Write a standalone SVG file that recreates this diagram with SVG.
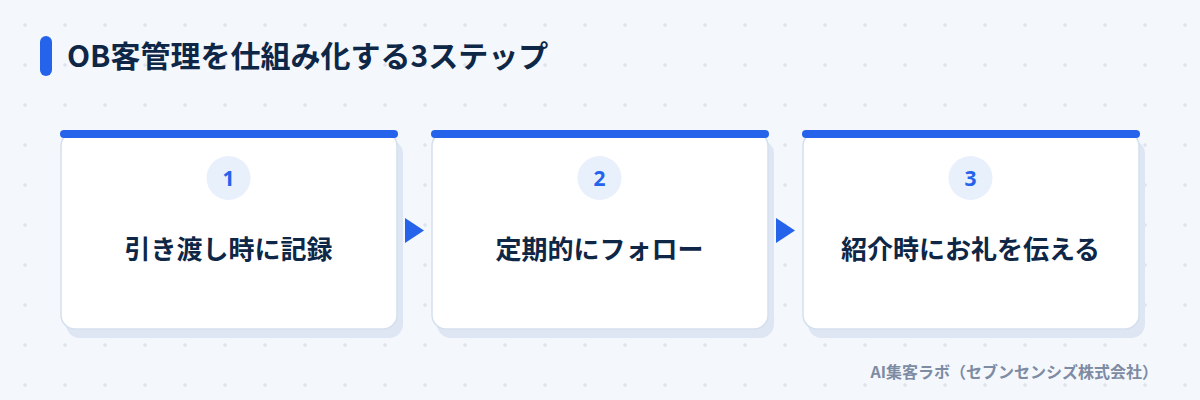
<svg xmlns="http://www.w3.org/2000/svg" width="1200" height="400" viewBox="0 0 1200 400">
  <defs>
    <pattern id="grid" x="0" y="0" width="40" height="40" patternUnits="userSpaceOnUse">
      <path d="M23 25h4M25 23v4" stroke="#d6dde9" stroke-width="1"/>
    </pattern>
    <style>
      .title{font-family:"Noto Sans CJK JP","Noto Sans",sans-serif;font-weight:700;font-size:30px;fill:#0f2747}
      .label{font-family:"Noto Sans CJK JP","Noto Sans",sans-serif;font-weight:700;font-size:26px;fill:#0f2747;text-anchor:middle}
      .num{font-family:"Noto Sans","Noto Sans CJK JP",sans-serif;font-weight:700;font-size:21px;fill:#2563eb;text-anchor:middle}
      .foot{font-family:"Noto Sans CJK JP","Noto Sans",sans-serif;font-weight:700;font-size:16px;fill:#7d8ba3;text-anchor:end}
      .shadow{fill:#dde6f2}
      .card{fill:#ffffff;stroke:#d5e0ee;stroke-width:1.5}
      .bar{fill:#2563eb}
      .badge{fill:#e8f0fc}
      .arrow{fill:#2563eb}
    </style>
  </defs>
  <rect width="1200" height="400" fill="#f4f7fc"/>
  <rect width="1200" height="400" fill="url(#grid)"/>

  <g id="title">
    <rect x="40" y="36" width="12" height="40" rx="6" fill="#2563eb"/>
    <text class="title" x="67" y="67">OB客管理を仕組み化する3ステップ</text>
  </g>

  <g id="step1">
    <rect class="shadow" x="66" y="140" width="337" height="198" rx="14"/>
    <rect class="card" x="61" y="132" width="336" height="197" rx="14"/>
    <rect class="bar" x="60" y="130" width="338" height="8" rx="4"/>
    <circle class="badge" cx="228.5" cy="178" r="22"/>
    <text class="num" x="228.5" y="185.5">1</text>
    <text class="label" x="228.5" y="259">引き渡し時に記録</text>
  </g>

  <g id="step2">
    <rect class="shadow" x="437" y="140" width="337" height="198" rx="14"/>
    <rect class="card" x="432" y="132" width="336" height="197" rx="14"/>
    <rect class="bar" x="431" y="130" width="338" height="8" rx="4"/>
    <circle class="badge" cx="599.5" cy="178" r="22"/>
    <text class="num" x="599.5" y="185.5">2</text>
    <text class="label" x="599.5" y="259">定期的にフォロー</text>
  </g>

  <g id="step3">
    <rect class="shadow" x="808" y="140" width="337" height="198" rx="14"/>
    <rect class="card" x="803" y="132" width="336" height="197" rx="14"/>
    <rect class="bar" x="802" y="130" width="338" height="8" rx="4"/>
    <circle class="badge" cx="970.5" cy="178" r="22"/>
    <text class="num" x="970.5" y="185.5">3</text>
    <text class="label" x="970.5" y="259">紹介時にお礼を伝える</text>
  </g>

  <g id="connectors">
    <polygon class="arrow" points="405,218 424,230.5 405,243"/>
    <polygon class="arrow" points="776,218 795,230.5 776,243"/>
  </g>

  <text class="foot" x="1158" y="378">AI集客ラボ（セブンセンシズ株式会社）</text>
</svg>
